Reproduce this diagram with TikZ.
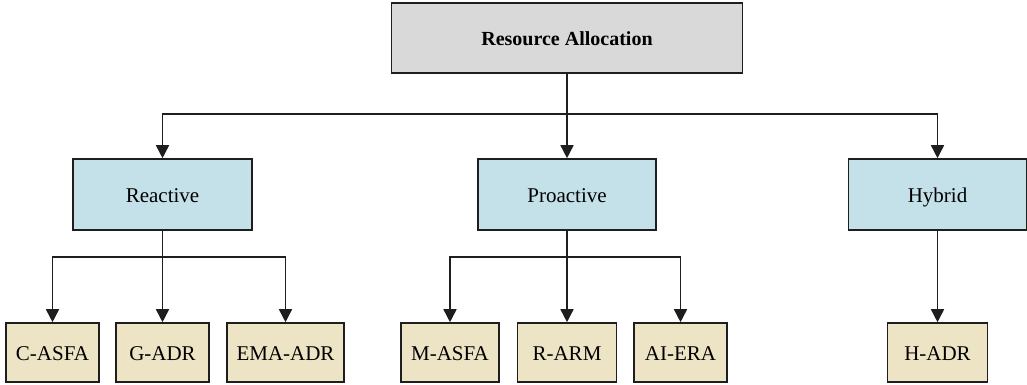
\documentclass[tikz,border=0pt]{standalone}
\usepackage{fontspec}
\setmainfont{Liberation Serif}
\usetikzlibrary{arrows.meta}

\definecolor{rootfill}{HTML}{D9D9D9}
\definecolor{catfill}{HTML}{C4E0E8}
\definecolor{leaffill}{HTML}{EDE3C5}
\definecolor{edgecol}{HTML}{1E1E1E}

\tikzset{
  box/.style={draw=edgecol, line width=1.6pt, inner sep=0pt, align=center,
    text height=16pt, text depth=1pt,
    font=\fontsize{21}{25}\selectfont},
  rootbox/.style={box, fill=rootfill, font=\fontsize{20}{24}\selectfont\bfseries},
  catbox/.style={box, fill=catfill},
  leafbox/.style={box, fill=leaffill},
  link/.style={draw=edgecol, line width=1.6pt,
    -{Triangle[length=13pt, width=13pt]}},
  plain/.style={draw=edgecol, line width=1.6pt},
}

\begin{document}
\begin{tikzpicture}[x=1pt, y=-1pt]
  \useasboundingbox (0,0) rectangle (1027,384);

  % root
  \node[rootbox, minimum width=351pt, minimum height=70pt] (root) at (567,38) {Resource Allocation};

  % categories
  \node[catbox, minimum width=179pt, minimum height=71pt] (reac) at (162.5,194.5) {Reactive};
  \node[catbox, minimum width=178pt, minimum height=71pt] (proa) at (567,194.5) {Proactive};
  \node[catbox, minimum width=178pt, minimum height=71pt] (hyb)  at (937.5,194.5) {Hybrid};

  % methods
  \node[leafbox, minimum width=93pt,  minimum height=59pt] (casfa) at (52.5,352.5)  {C-ASFA};
  \node[leafbox, minimum width=93pt,  minimum height=59pt] (gadr)  at (162.5,352.5) {G-ADR};
  \node[leafbox, minimum width=117pt, minimum height=59pt] (emaadr) at (285.5,352.5) {EMA-ADR};
  \node[leafbox, minimum width=98pt,  minimum height=59pt] (masfa) at (450,352.5)   {M-ASFA};
  \node[leafbox, minimum width=99pt,  minimum height=59pt] (rarm)  at (567,352.5)   {R-ARM};
  \node[leafbox, minimum width=93pt,  minimum height=59pt] (aiera) at (680.5,352.5) {AI-ERA};
  \node[leafbox, minimum width=100pt, minimum height=59pt] (hadr)  at (937.5,352.5) {H-ADR};

  % branch junctions
  \coordinate (j0) at (567,114);
  \coordinate (j1) at (162.5,257);
  \coordinate (j2) at (567,257);

  % root to categories
  \draw[plain] (root.south) -- (j0);
  \draw[link] (j0) -| (reac.north);
  \draw[link] (j0) -- (proa.north);
  \draw[link] (j0) -| (hyb.north);

  % reactive methods
  \draw[plain] (reac.south) -- (j1);
  \draw[link] (j1) -| (casfa.north);
  \draw[link] (j1) -- (gadr.north);
  \draw[link] (j1) -| (emaadr.north);

  % proactive methods
  \draw[plain] (proa.south) -- (j2);
  \draw[link] (j2) -| (masfa.north);
  \draw[link] (j2) -- (rarm.north);
  \draw[link] (j2) -| (aiera.north);

  % hybrid method
  \draw[link] (hyb.south) -- (hadr.north);
\end{tikzpicture}
\end{document}
